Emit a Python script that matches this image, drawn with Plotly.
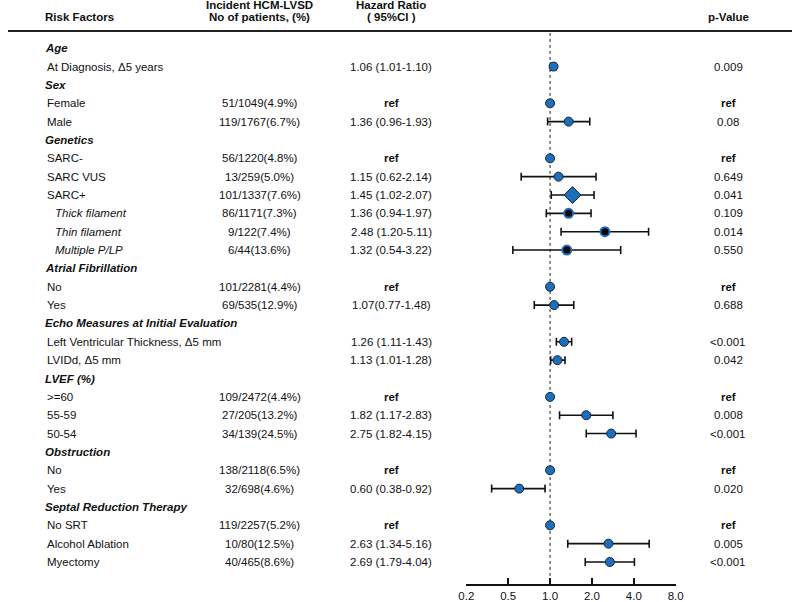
import plotly.graph_objects as go

# ---------------- data ----------------
labels = ["Age", "At Diagnosis, Δ5 years",
          "Sex", "Female", "Male",
          "Genetics", "SARC-", "SARC VUS", "SARC+", "Thick filament", "Thin filament", "Multiple P/LP",
          "Atrial Fibrillation", "No", "Yes",
          "Echo Measures at Initial Evaluation", "Left Ventricular Thickness, Δ5 mm", "LVIDd, Δ5 mm",
          "LVEF (%)", ">=60", "55-59", "50-54",
          "Obstruction", "No", "Yes",
          "Septal Reduction Therapy", "No SRT", "Alcohol Ablation", "Myectomy"]
# row type: H = section header, R = normal row, S = italic sub-row
row_type = ["H", "R",
            "H", "R", "R",
            "H", "R", "R", "R", "S", "S", "S",
            "H", "R", "R",
            "H", "R", "R",
            "H", "R", "R", "R",
            "H", "R", "R",
            "H", "R", "R", "R"]
incident = ["", "",
            "", "51/1049(4.9%)", "119/1767(6.7%)",
            "", "56/1220(4.8%)", "13/259(5.0%)", "101/1337(7.6%)", "86/1171(7.3%)", "9/122(7.4%)", "6/44(13.6%)",
            "", "101/2281(4.4%)", "69/535(12.9%)",
            "", "", "",
            "", "109/2472(4.4%)", "27/205(13.2%)", "34/139(24.5%)",
            "", "138/2118(6.5%)", "32/698(4.6%)",
            "", "119/2257(5.2%)", "10/80(12.5%)", "40/465(8.6%)"]
hr_text = ["", "1.06 (1.01-1.10)",
           "", "ref", "1.36 (0.96-1.93)",
           "", "ref", "1.15 (0.62-2.14)", "1.45 (1.02-2.07)", "1.36 (0.94-1.97)", "2.48 (1.20-5.11)", "1.32 (0.54-3.22)",
           "", "ref", "1.07(0.77-1.48)",
           "", "1.26 (1.11-1.43)", "1.13 (1.01-1.28)",
           "", "ref", "1.82 (1.17-2.83)", "2.75 (1.82-4.15)",
           "", "ref", "0.60 (0.38-0.92)",
           "", "ref", "2.63 (1.34-5.16)", "2.69 (1.79-4.04)"]
p_text = ["", "0.009",
          "", "ref", "0.08",
          "", "ref", "0.649", "0.041", "0.109", "0.014", "0.550",
          "", "ref", "0.688",
          "", "<0.001", "0.042",
          "", "ref", "0.008", "<0.001",
          "", "ref", "0.020",
          "", "ref", "0.005", "<0.001"]
hr = [None, 1.06,
      None, 1.0, 1.36,
      None, 1.0, 1.15, 1.45, 1.36, 2.48, 1.32,
      None, 1.0, 1.07,
      None, 1.26, 1.13,
      None, 1.0, 1.82, 2.75,
      None, 1.0, 0.60,
      None, 1.0, 2.63, 2.69]
ci_lo = [None, 1.01,
         None, None, 0.96,
         None, None, 0.62, 1.02, 0.94, 1.20, 0.54,
         None, None, 0.77,
         None, 1.11, 1.01,
         None, None, 1.17, 1.82,
         None, None, 0.38,
         None, None, 1.34, 1.79]
ci_hi = [None, 1.10,
         None, None, 1.93,
         None, None, 2.14, 2.07, 1.97, 5.11, 3.22,
         None, None, 1.48,
         None, 1.43, 1.28,
         None, None, 2.83, 4.15,
         None, None, 0.92,
         None, None, 5.16, 4.04]
# marker style: c = circle, d = diamond, k = dark-centre circle
marker_kind = ["", "c",
               "", "c", "c",
               "", "c", "c", "d", "k", "k", "k",
               "", "c", "c",
               "", "c", "c",
               "", "c", "c", "c",
               "", "c", "c",
               "", "c", "c", "c"]
tick_vals = [0.25, 0.5, 1, 2, 4, 8]
tick_text = ["0.2", "0.5", "1.0", "2.0", "4.0", "8.0"]

# ---------------- layout helpers ----------------
W, H = 800, 602
ROW0, DY = 48.3, 18.38
AX_PX = 585.0


def py(p):
    return (p - ROW0) / DY


BLUE = "#1f6fb8"
EDGE = "#0b2746"
FONT = "Liberation Sans, Arial, sans-serif"
TXT = "#111111"
FS = 11.5

fig = go.Figure()


def add_markers(kind, symbol, size, fill, line_col, line_w):
    idx = [i for i, k in enumerate(marker_kind) if k == kind]
    xs = [hr[i] for i in idx]
    ys = list(idx)
    ex = [j for j, i in enumerate(idx) if ci_hi[i] is not None]
    fig.add_trace(go.Scatter(
        x=[xs[j] for j in ex], y=[ys[j] for j in ex], mode="markers",
        marker=dict(size=0.1, opacity=0),
        error_x=dict(type="data", symmetric=False,
                     array=[ci_hi[idx[j]] - hr[idx[j]] for j in ex],
                     arrayminus=[hr[idx[j]] - ci_lo[idx[j]] for j in ex],
                     color="#111111", thickness=1.6, width=4),
        showlegend=False, hoverinfo="skip"))
    fig.add_trace(go.Scatter(
        x=xs, y=ys, mode="markers",
        marker=dict(symbol=symbol, size=size, color=fill, line=dict(color=line_col, width=line_w)),
        showlegend=False, hoverinfo="skip"))


# dotted reference line at HR = 1
fig.add_shape(type="line", xref="x", yref="y", x0=1, x1=1, y0=py(33), y1=py(578),
              line=dict(color="#222222", width=1, dash="dot"), layer="below")

add_markers("c", "circle", 9, BLUE, EDGE, 1)
add_markers("d", "diamond", 13, BLUE, EDGE, 1)
add_markers("k", "circle", 9, "#050505", BLUE, 2)

ann = []
ann.append(dict(text="<b>Risk Factors</b>", x=36 / W, y=py(17), xanchor="left"))
ann.append(dict(text="<b>Incident HCM-LVSD</b>", x=257 / W, y=py(5.5), xanchor="center"))
ann.append(dict(text="<b>No of patients, (%)</b>", x=257 / W, y=py(17.5), xanchor="center"))
ann.append(dict(text="<b>Hazard Ratio</b>", x=391 / W, y=py(5.5), xanchor="center"))
ann.append(dict(text="<b>( 95%CI )</b>", x=391 / W, y=py(17.5), xanchor="center"))
ann.append(dict(text="<b>p-Value</b>", x=735 / W, y=py(17), xanchor="center"))

for i, lab in enumerate(labels):
    t = row_type[i]
    if t == "H":
        ann.append(dict(text="<b><i>%s</i></b>" % lab, x=36 / W, y=i, xanchor="left"))
        continue
    if t == "S":
        ann.append(dict(text="<i>%s</i>" % lab, x=46 / W, y=i, xanchor="left"))
    else:
        ann.append(dict(text=lab, x=38 / W, y=i, xanchor="left"))
    if incident[i]:
        ann.append(dict(text=incident[i], x=257 / W, y=i, xanchor="center"))
    if hr_text[i]:
        s = "<b>ref</b>" if hr_text[i] == "ref" else hr_text[i]
        ann.append(dict(text=s, x=391 / W, y=i, xanchor="center"))
    if p_text[i]:
        s = "<b>ref</b>" if p_text[i] == "ref" else p_text[i]
        ann.append(dict(text=s, x=735 / W, y=i, xanchor="center"))

for a in ann:
    a.update(dict(xref="paper", yref="y", yanchor="middle", showarrow=False,
                  font=dict(family=FONT, size=FS, color=TXT)))

# header rule
fig.add_shape(type="line", xref="paper", yref="y", x0=0, x1=1, y0=py(31), y1=py(31),
              line=dict(color="#222222", width=2))

fig.update_layout(
    width=W, height=H, margin=dict(l=0, r=0, t=0, b=0),
    paper_bgcolor="white", plot_bgcolor="white",
    annotations=ann,
    xaxis=dict(type="log", domain=[467.7 / W, 681.3 / W],
               range=[-0.60206, 0.90309],
               tickvals=tick_vals, ticktext=tick_text,
               showline=True, linecolor="#111111", linewidth=1.6,
               ticks="inside", ticklen=6, tickwidth=1.6, tickcolor="#111111",
               showgrid=False, zeroline=False,
               tickfont=dict(family=FONT, size=FS, color=TXT)),
    yaxis=dict(domain=[(H - AX_PX) / H, 1], range=[py(AX_PX), py(0)],
               showgrid=False, zeroline=False, showticklabels=False, showline=False,
               ticks=""),
)

fig.write_html("out.html", config={"displayModeBar": False},
               post_script="document.body.style.margin='0';document.body.style.overflow='hidden';")
